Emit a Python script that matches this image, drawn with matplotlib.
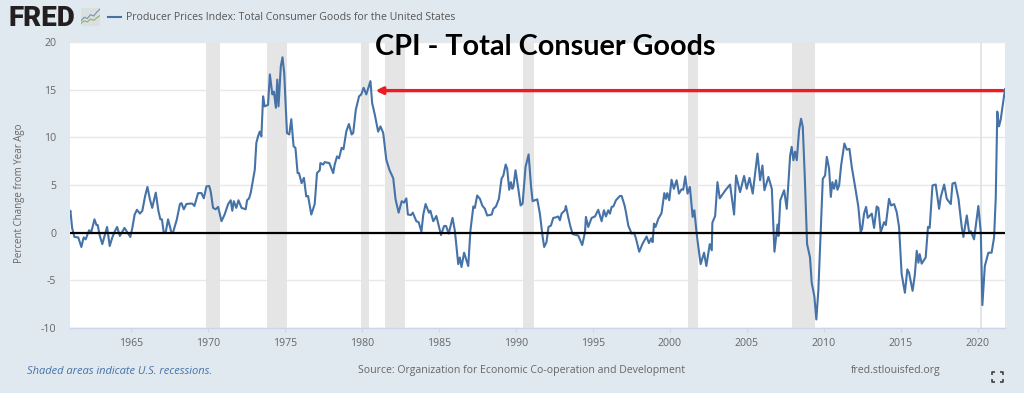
"""
plot.py
-------
FRED style chart: producer prices for total consumer goods, percent change
from a year ago, with recession bands and a red arrow drawn over it.
"""

import matplotlib
matplotlib.use("Agg")
import matplotlib.pyplot as plt
from matplotlib.lines import Line2D
from matplotlib.patches import Rectangle

plt.rcParams["font.family"] = ["Open Sans", "DejaVu Sans"]

W, H = 1024, 394

YEARS_1960S = [
    1961.0, 1961.09, 1961.2, 1961.35, 1961.6, 1961.8, 1961.95, 1962.08, 1962.3, 1962.45,
    1962.65, 1962.78, 1962.86, 1963.0, 1963.16, 1963.47, 1963.64, 1963.81, 1963.99, 1964.12,
    1964.3, 1964.6, 1964.98, 1965.11, 1965.26, 1965.41, 1965.6, 1965.76, 1965.94, 1966.09,
    1966.25, 1966.4, 1966.63, 1966.8, 1966.93, 1967.03, 1967.15, 1967.27, 1967.43, 1967.65,
    1967.75, 1968.0, 1968.2, 1968.3, 1968.45, 1968.62, 1968.84, 1969.0, 1969.14, 1969.38,
    1969.6, 1969.75,
]
VALUES_1960S = [
    1.9, 2.3, 0.5, -0.45, -0.5, -1.5, -0.5, -0.7, 0.25, 0.1,
    1.4, 0.8, 0.8, -0.35, -1.2, 0.6, -1.4, -0.5, 0.2, 0.6,
    -0.35, 0.5, -0.45, 0.5, 1.9, 2.4, 2.0, 2.3, 3.85, 4.8,
    3.5, 2.6, 4.2, 2.3, 1.4, 1.4, 0.0, 0.0, 1.4, 0.0,
    0.0, 1.4, 3.0, 3.1, 2.45, 3.0, 3.05, 3.05, 2.8, 4.15,
    4.15, 3.6,
]

YEARS_1970S = [
    1969.92, 1970.1, 1970.2, 1970.35, 1970.52, 1970.68, 1970.9, 1971.1, 1971.33, 1971.5,
    1971.6, 1971.7, 1971.86, 1972.0, 1972.2, 1972.47, 1972.56, 1972.69, 1972.8, 1972.95,
    1973.06, 1973.16, 1973.27, 1973.38, 1973.49, 1973.6, 1973.7, 1973.92, 1974.04, 1974.2,
    1974.3, 1974.43, 1974.52, 1974.6, 1974.75, 1974.86, 1974.97, 1975.15, 1975.3, 1975.43,
    1975.58, 1975.7, 1975.84, 1975.93, 1976.1, 1976.25, 1976.4, 1976.52, 1976.73, 1976.95,
    1977.1, 1977.28, 1977.32, 1977.5, 1977.6, 1977.9, 1978.15, 1978.25, 1978.4, 1978.53,
    1978.7, 1978.82, 1979.0, 1979.17, 1979.35, 1979.45, 1979.62, 1979.83,
]
VALUES_1970S = [
    4.85, 4.9, 4.3, 2.6, 2.45, 2.7, 1.2, 1.9, 3.0, 3.4,
    2.3, 3.3, 2.6, 3.4, 2.6, 2.45, 3.4, 3.6, 4.2, 5.55,
    6.6, 9.4, 10.1, 10.6, 10.1, 14.3, 13.25, 13.4, 16.6, 14.5,
    14.8, 13.1, 16.05, 13.25, 17.45, 18.4, 16.75, 10.45, 10.3, 11.9,
    9.05, 8.9, 6.25, 6.25, 5.2, 5.75, 3.8, 3.85, 1.9, 3.0,
    6.25, 6.55, 7.3, 7.15, 7.4, 7.3, 6.25, 7.15, 8.0, 7.8,
    8.9, 8.75, 10.6, 11.4, 10.3, 10.45, 12.9, 14.3,
]

YEARS_1980S = [
    1979.97, 1980.13, 1980.3, 1980.57, 1980.68, 1980.85, 1981.07, 1981.22, 1981.4, 1981.6,
    1981.8, 1982.05, 1982.2, 1982.4, 1982.6, 1982.75, 1982.9, 1983.0, 1983.2, 1983.32,
    1983.55, 1983.7, 1983.88, 1984.0, 1984.15, 1984.37, 1984.46, 1984.65, 1984.85, 1985.15,
    1985.35, 1985.48, 1985.65, 1985.9, 1986.05, 1986.27, 1986.37, 1986.48, 1986.65, 1986.92,
    1987.06, 1987.25, 1987.35, 1987.5, 1987.68, 1987.83, 1988.0, 1988.15, 1988.44, 1988.55,
    1988.72, 1988.91, 1989.08, 1989.2, 1989.35, 1989.45, 1989.58, 1989.69, 1989.78, 1989.85,
    1989.99,
]
VALUES_1980S = [
    14.5, 15.2, 14.5, 15.9, 13.6, 12.4, 10.6, 11.15, 10.45, 7.65,
    6.6, 5.7, 3.5, 2.1, 3.3, 3.15, 3.6, 1.9, 1.85, 2.1,
    1.2, 1.1, 0.1, 1.9, 3.0, 2.1, 2.3, 1.2, 1.75, -0.25,
    0.7, 0.7, -0.1, 1.55, 0.2, -3.3, -2.6, -3.6, -2.1, -3.5,
    0.2, 2.75, 2.6, 3.9, 3.55, 2.85, 2.5, 1.8, 1.9, 2.5,
    2.75, 3.55, 5.65, 6.0, 7.15, 6.7, 4.5, 5.3, 4.6, 4.8,
    6.55,
]

YEARS_1990S = [
    1990.17, 1990.32, 1990.45, 1990.64, 1990.84, 1991.0, 1991.1, 1991.4, 1991.57, 1991.75,
    1991.85, 1992.0, 1992.13, 1992.29, 1992.44, 1992.6, 1992.76, 1992.87, 1992.98, 1993.2,
    1993.26, 1993.41, 1993.56, 1993.7, 1994.06, 1994.32, 1994.5, 1994.56, 1994.71, 1994.93,
    1995.15, 1995.36, 1995.58, 1995.73, 1995.86, 1996.01, 1996.12, 1996.23, 1996.34, 1996.51,
    1996.77, 1996.88, 1997.07, 1997.16, 1997.31, 1997.53, 1997.68, 1997.81, 1998.02, 1998.24,
    1998.5, 1998.65, 1998.8, 1998.89, 1998.98, 1999.08, 1999.26, 1999.47, 1999.65, 1999.75,
    1999.84, 1999.97,
]
VALUES_1990S = [
    4.6, 2.85, 3.05, 6.9, 8.2, 4.8, 3.3, 3.5, 2.0, -0.45,
    -1.5, -1.0, 0.6, 0.75, 1.55, 1.6, 1.7, 1.3, 2.0, 2.35,
    2.8, 1.65, 0.6, -0.15, -0.3, -1.3, 0.05, 1.65, 0.6, 1.55,
    1.7, 2.4, 1.2, 2.35, 1.7, 2.35, 2.0, 2.7, 2.75, 3.4,
    3.85, 3.85, 2.85, 2.15, 0.75, -0.1, 0.0, -0.6, -2.0, -1.15,
    -0.4, -1.1, -0.6, -1.0, 0.95, 0.6, 1.45, 2.05, 4.15, 3.55,
    4.15, 3.4,
]

YEARS_2000S = [
    2000.12, 2000.27, 2000.45, 2000.6, 2000.77, 2000.88, 2001.01, 2001.16, 2001.31, 2001.49,
    2001.6, 2001.75, 2001.86, 2002.01, 2002.23, 2002.38, 2002.6, 2002.73, 2002.77, 2002.95,
    2003.1, 2003.25, 2003.64, 2003.92, 2004.18, 2004.31, 2004.57, 2004.83, 2005.0, 2005.18,
    2005.39, 2005.7, 2005.87, 2006.02, 2006.15, 2006.41, 2006.63, 2006.8, 2007.0, 2007.06,
    2007.18, 2007.43, 2007.6, 2007.82, 2007.92, 2008.03, 2008.14, 2008.25, 2008.4, 2008.53,
    2008.64, 2008.77, 2008.92, 2009.11, 2009.22, 2009.39, 2009.52, 2009.65, 2009.8,
]
VALUES_2000S = [
    5.55, 4.6, 5.5, 4.1, 4.55, 4.5, 5.9, 4.1, 4.8, 1.65,
    2.35, -0.1, -1.5, -3.3, -2.1, -3.5, -1.2, -1.85, 1.05, 1.75,
    5.3, 3.6, 4.5, 5.05, 1.9, 6.0, 4.25, 5.95, 4.6, 5.75,
    4.1, 8.3, 5.5, 7.05, 4.45, 5.85, 4.6, -2.0, 0.85, -0.35,
    3.4, 4.45, 2.5, 8.1, 9.0, 7.6, 8.5, 7.6, 10.75, 11.95,
    11.1, 5.85, -1.2, -2.6, -5.25, -6.65, -9.1, -6.1, -0.15,
]

YEARS_2010S = [
    2009.94, 2010.09, 2010.2, 2010.35, 2010.46, 2010.56, 2010.67, 2010.8, 2010.89, 2011.0,
    2011.13, 2011.34, 2011.5, 2011.67, 2011.82, 2012.04, 2012.25, 2012.4, 2012.49, 2012.62,
    2012.75, 2012.86, 2013.12, 2013.27, 2013.44, 2013.55, 2013.7, 2013.92, 2014.03, 2014.24,
    2014.37, 2014.57, 2014.74, 2014.89, 2015.06, 2015.27, 2015.43, 2015.54, 2015.77, 2015.91,
    2016.04, 2016.15, 2016.23, 2016.36, 2016.62, 2016.77, 2016.88, 2017.06, 2017.27, 2017.49,
    2017.6, 2017.82, 2017.99, 2018.25, 2018.36, 2018.53, 2018.75, 2018.96, 2019.07, 2019.29,
    2019.44, 2019.55, 2019.76,
]
VALUES_2010S = [
    5.65, 6.0, 7.95, 6.7, 3.75, 5.3, 4.6, 5.5, 4.5, 4.95,
    7.05, 9.35, 8.7, 8.8, 6.9, 4.8, 2.7, 0.05, 0.4, 2.0,
    2.7, 1.55, 2.0, 0.5, 2.75, 2.6, 0.05, 1.1, 0.8, 3.55,
    2.85, 3.0, 2.15, 0.6, -4.35, -6.3, -3.85, -4.2, -6.1, -4.5,
    -1.9, -3.15, -2.25, -3.25, -2.6, 0.6, 0.5, 4.95, 5.05, 2.5,
    3.75, 5.05, 3.55, 3.0, 5.15, 5.25, 3.55, 0.6, -0.45, 1.8,
    0.05, 0.15, -0.7,
]

YEARS_2020S = [
    2020.04, 2020.2, 2020.3, 2020.46, 2020.69, 2020.9, 2021.06, 2021.17, 2021.27, 2021.38,
    2021.49, 2021.77,
]
VALUES_2020S = [2.8, 0.0, -7.6, -3.5, -2.1, -2.1, -0.5, 3.7, 12.7, 11.15, 11.85, 15.05]

RECESSION_STARTS = [1969.92, 1973.83, 1979.98, 1981.5, 1990.5, 2001.2, 2007.96, 2020.12]
RECESSION_ENDS = [1970.83, 1975.13, 1980.48, 1982.8, 1991.18, 2001.85, 2009.44, 2020.28]

X_TICKS = [1965, 1970, 1975, 1980, 1985, 1990, 1995, 2000, 2005, 2010, 2015, 2020]
Y_TICKS = [-10, -5, 0, 5, 10, 15, 20]

ARROW_LEVEL = 14.9
ARROW_FROM = 2021.62
ARROW_TO = 1980.9

# little logo chart next to the FRED wordmark
ICON_X = [0, 1, 2, 3, 4, 5, 6]
ICON_BLUE = [2.0, 3.4, 2.9, 4.4, 3.9, 5.4, 6.6]
ICON_GREEN = [1.0, 2.0, 1.6, 2.7, 2.2, 3.2, 4.1]

BG = "#E1E9F0"
LINE_BLUE = "#4572A7"
TEXT_GREY = "#666666"
SMALL = 7.6


def px(x, y):
    # pixel position measured from the top left -> figure fraction
    return x / W, 1 - y / H


def main():
    fig = plt.figure(figsize=(W / 100, H / 100), dpi=100, facecolor=BG)
    fig.add_artist(Rectangle((0, 0), 1, 1.5 / H, transform=fig.transFigure,
                             facecolor="white", edgecolor="none"))

    left, top = px(69.5, 42)
    right, bottom = px(1005, 328)
    ax = fig.add_axes([left, bottom, right - left, top - bottom], facecolor="white")

    years = YEARS_1960S + YEARS_1970S + YEARS_1980S + YEARS_1990S + YEARS_2000S + YEARS_2010S + YEARS_2020S
    values = VALUES_1960S + VALUES_1970S + VALUES_1980S + VALUES_1990S + VALUES_2000S + VALUES_2010S + VALUES_2020S

    for start, end in zip(RECESSION_STARTS, RECESSION_ENDS):
        ax.axvspan(start, end, facecolor="#E5E5E5", edgecolor="none", zorder=1)

    ax.plot(years, values, color=LINE_BLUE, lw=1.5, solid_joinstyle="round", zorder=3)
    ax.axhline(0, color="black", lw=1.6, zorder=4)

    ax.annotate("", xy=(ARROW_TO, ARROW_LEVEL), xytext=(ARROW_FROM, ARROW_LEVEL),
                arrowprops=dict(arrowstyle="-|>", color="#ED1C24", lw=2.4,
                                mutation_scale=10, shrinkA=0, shrinkB=0), zorder=5)

    ax.set_xlim(1961.03, 2021.77)
    ax.set_ylim(-10, 20)
    ax.set_xticks(X_TICKS)
    ax.set_yticks(Y_TICKS)
    ax.set_yticklabels([str(v) for v in Y_TICKS])
    ax.grid(axis="y", color="#E8E8E8", lw=1.0, zorder=0)
    ax.set_axisbelow(True)

    for side in ["top", "left", "right"]:
        ax.spines[side].set_visible(False)
    ax.spines["bottom"].set_color("#CCD6EB")
    ax.spines["bottom"].set_linewidth(1.0)
    ax.tick_params(axis="x", length=3, width=0.8, color="#CCD6EB", labelsize=SMALL,
                   labelcolor=TEXT_GREY, pad=4.5)
    ax.tick_params(axis="y", length=0, labelsize=SMALL, labelcolor=TEXT_GREY, pad=9.5)

    fig.text(*px(20, 193), "Percent Change from Year Ago", rotation=90, fontsize=7.0,
             color=TEXT_GREY, ha="center", va="center")

    # header
    fig.text(*px(8, 26), "FRED", fontsize=20, fontweight=900, color="#231F20",
             ha="left", va="baseline", family=["Roboto", "DejaVu Sans"])
    icon_l, icon_t = px(81, 8)
    icon_r, icon_b = px(100, 26)
    icon = fig.add_axes([icon_l, icon_b, icon_r - icon_l, icon_t - icon_b], facecolor="#DCDFDF")
    icon.plot(ICON_X, ICON_BLUE, color="#6E93B8", lw=0.8)
    icon.plot(ICON_X, ICON_GREEN, color="#8DB36A", lw=0.8)
    icon.set_xlim(0, 6)
    icon.set_ylim(0, 7)
    icon.axis("off")
    icon.add_patch(Rectangle((0, 0), 6, 7, facecolor="#DCDFDF", edgecolor="none", zorder=0))

    fig.add_artist(Line2D([108 / W, 121 / W], [1 - 17 / H] * 2, color=LINE_BLUE, lw=1.5))
    fig.text(*px(126, 17), "Producer Prices Index: Total Consumer Goods for the United States",
             fontsize=SMALL, color="#555555", ha="left", va="center")

    fig.text(*px(545.5, 55), "CPI - Total Consuer Goods", fontsize=20.7, fontweight="bold",
             color="black", ha="center", va="baseline", zorder=10,
             family=["Lato", "DejaVu Sans"])

    # footer
    fig.text(*px(27, 371), "Shaded areas indicate U.S. recessions.", fontsize=8.05,
             style="italic", color=LINE_BLUE, ha="left", va="center")
    fig.text(*px(358, 371), "Source: Organization for Economic Co-operation and Development",
             fontsize=SMALL, color=TEXT_GREY, ha="left", va="center")
    fig.text(*px(851, 371), "fred.stlouisfed.org", fontsize=SMALL, color=TEXT_GREY,
             ha="left", va="center")

    # fullscreen button in the corner
    for cx, cy, dx, dy in [(992, 372, 1, 1), (1003, 372, -1, 1), (992, 382, 1, -1), (1003, 382, -1, -1)]:
        xs = [(cx + dx * 3) / W, cx / W, cx / W]
        ys = [1 - cy / H, 1 - cy / H, 1 - (cy + dy * 3) / H]
        fig.add_artist(Line2D(xs, ys, color="#333333", lw=1.1, solid_capstyle="butt"))

    fig.savefig("out.png", dpi=100, facecolor=fig.get_facecolor())


if __name__ == "__main__":
    main()
